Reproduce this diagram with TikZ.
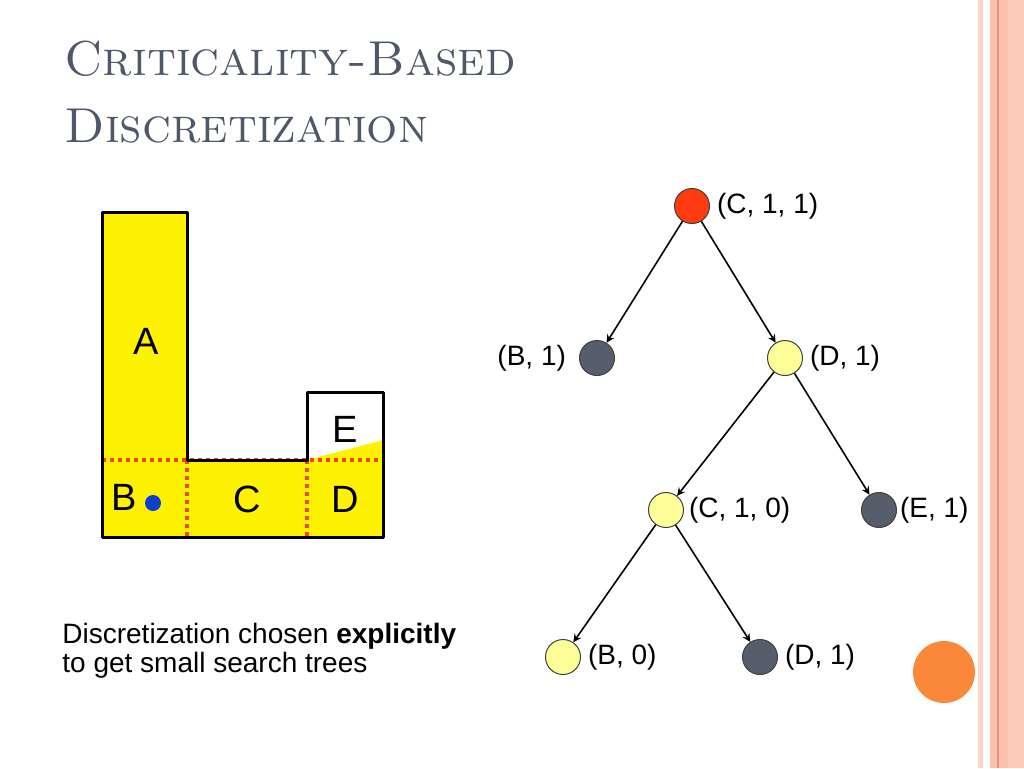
\documentclass[tikz,border=0pt]{standalone}
\usepackage{fontspec}
\newfontfamily\arial{Liberation Sans}
\usepackage{xcolor}
\usepackage{tikz}
\usetikzlibrary{trees}

\definecolor{titlegrey}{HTML}{4E5868}
\definecolor{rootred}{HTML}{FF3B0F}
\definecolor{leafgrey}{HTML}{565E6B}
\definecolor{paleyellow}{HTML}{FFFF99}
\definecolor{dotred}{HTML}{F0450E}
\definecolor{dotblue}{HTML}{0A3FD0}
\definecolor{salmon}{HTML}{FDCAB8}
\definecolor{salmondark}{HTML}{F9C0AC}
\definecolor{salmonline}{HTML}{E39473}
\definecolor{bloborange}{HTML}{FA883A}

\begin{document}
\begin{tikzpicture}[
        x=0.5pt, y=-0.5pt,
        level 1/.style={grow via three points={one child at (0,152) and two children at (-95,152) and (93,152)}},
        level 2/.style={grow via three points={one child at (0,152) and two children at (-119,152) and (94,152)}},
        level 3/.style={grow via three points={one child at (0,147) and two children at (-103,147) and (94,147)}},
        edge from parent/.style={draw, -stealth, line width=0.8pt},
        state/.style={circle, draw=black!75, line width=0.5pt, minimum size=17.5pt, inner sep=0pt},
        every label/.style={font=\arial\fontsize{14}{16}\selectfont},
        region/.style={font=\arial\fontsize{19}{22}\selectfont}
      ]

      % page and right border
      \useasboundingbox (0,0) rectangle (1024,768);
      \fill[white] (0,0) rectangle (1024,768);
      \fill[salmon!80] (978,0) rectangle (983,768);
      \fill[salmondark] (990,0) rectangle (1008,768);
      \fill[salmon] (1008,0) rectangle (1024,768);
      \draw[salmonline, line width=0.6pt] (998,0) -- (998,768);

      % title
      \node[anchor=base west, inner sep=0pt, text=titlegrey,
        font=\fontsize{24.5}{28}\selectfont\scshape] (title1) at (64,75) {Criticality-Based};
      \node[anchor=base west, inner sep=0pt, text=titlegrey,
        font=\fontsize{24.5}{28}\selectfont\scshape] (title2) at (64,142) {Discretization};

      % the L-shaped map
      \fill[yellow] (102,212) -- (187,212) -- (187,460) -- (307,460) -- (383,440)
        -- (383,537) -- (102,537) -- cycle;
      \draw[dotred, line width=2pt, dash pattern=on 2pt off 2pt]
        (102,460) -- (383,460)
        (187,460) -- (187,537)
        (307,460) -- (307,537);
      \draw[line width=1.5pt, line join=round] (102,212) -- (187,212) -- (187,460)
        -- (307,460) -- (307,392) -- (383,392) -- (383,537) -- (102,537) -- cycle;

      \node[region] (A) at (146,341) {A};
      \node[region] (B) at (124,497) {B};
      \node[region] (C) at (247,499) {C};
      \node[region] (D) at (345,499) {D};
      \node[region] (E) at (345,429) {E};
      \fill[dotblue] (153,503) circle (4pt);

      % caption
      \node[anchor=north west, inner sep=0pt, align=left,
        font=\arial\fontsize{14}{14.5}\selectfont] (caption) at (62,623)
        {Discretization chosen \textbf{explicitly}\\to get small search trees};

      % search tree
      \node[state, fill=rootred, label=right:{(C, 1, 1)}] (c11) at (692,206) {}
      child {node[state, fill=leafgrey, label={[label distance=3pt]left:(B, 1)}] (b1) {}}
      child {node[state, fill=paleyellow, label=right:{(D, 1)}] (d1) {}
        child {node[state, fill=paleyellow, label={[label distance=-1pt]right:(C, 1, 0)}] (c10) {}
          child {node[state, fill=paleyellow, label=right:{(B, 0)}] (b0) {}}
          child {node[state, fill=leafgrey, label=right:{(D, 1)}] (d1b) {}}
        }
        child {node[state, fill=leafgrey, label={[label distance=-2pt]right:(E, 1)}] (e1) {}}
      };

      % corner decoration
      \fill[bloborange] (944,672) circle (15.5pt);

    \end{tikzpicture}
\end{document}
